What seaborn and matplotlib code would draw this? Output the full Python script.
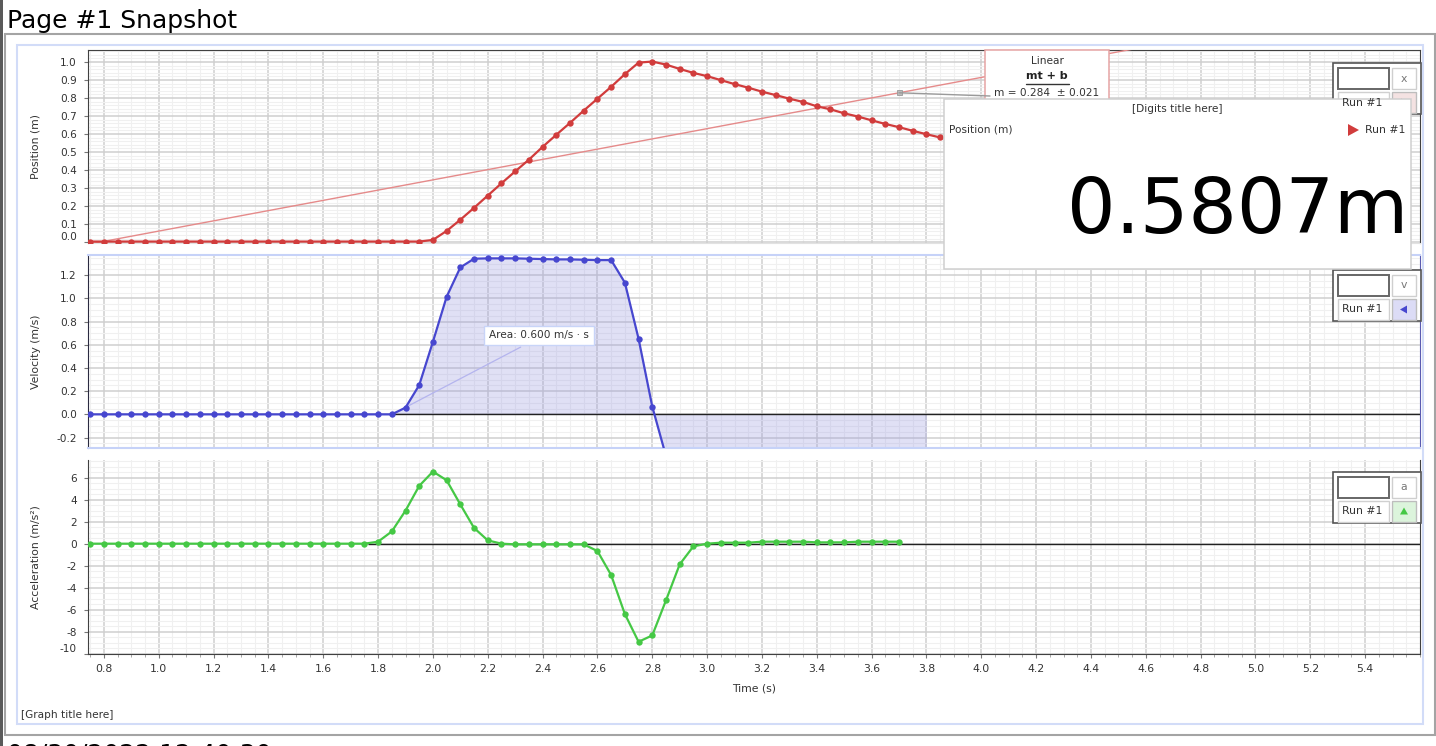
import numpy as np
import pandas as pd
import seaborn as sns
import matplotlib.pyplot as plt
from matplotlib.patches import Rectangle, Polygon
from matplotlib.ticker import MultipleLocator, FixedLocator

W, H = 1436, 746

# --- data (dt = 0.05 s, starting at 0.75 s) ---
t0, dt = 0.75, 0.05
position = [0.004] * 25 + [
    0.013, 0.063, 0.125, 0.191, 0.259, 0.327, 0.393, 0.458, 0.529, 0.596,
    0.662, 0.730, 0.796, 0.862, 0.932, 0.996, 1.002, 0.985, 0.961, 0.939,
    0.921, 0.899, 0.877, 0.857, 0.835, 0.816, 0.796, 0.778, 0.754, 0.737,
    0.715, 0.697, 0.676, 0.656, 0.638, 0.618, 0.599, 0.581]
velocity = [0.0] * 23 + [
    0.058, 0.252, 0.626, 1.014, 1.267, 1.342, 1.345, 1.345, 1.345, 1.342,
    1.339, 1.336, 1.336, 1.333, 1.330, 1.330, 1.136, 0.652, 0.067, -0.36,
    -0.44, -0.43, -0.44, -0.44, -0.42, -0.43, -0.42, -0.39, -0.38, -0.40,
    -0.42, -0.39, -0.40, -0.39, -0.40, -0.39, -0.38, -0.38, -0.37]
acceleration = [0.0] * 21 + [
    0.18, 1.11, 3.00, 5.25, 6.55, 5.76, 3.56, 1.43, 0.30, 0.0,
    -0.06, -0.06, -0.06, -0.06, -0.06, -0.06, -0.67, -2.85, -6.39, -8.91,
    -8.33, -5.15, -1.88, -0.24, 0.0, 0.09, 0.09, 0.09, 0.18, 0.18,
    0.18, 0.18, 0.12, 0.12, 0.12, 0.18, 0.18, 0.18, 0.18]

fit_m, fit_b, fit_err = 0.284, -0.222, 0.021
area_start, area_end, area_value = 1.85, 3.80, 0.600
digits_value = 0.5807

xticks = [0.8, 1.0, 1.2, 1.4, 1.6, 1.8, 2.0, 2.2, 2.4, 2.6, 2.8, 3.0,
          3.2, 3.4, 3.6, 3.8, 4.0, 4.2, 4.4, 4.6, 4.8, 5.0, 5.2, 5.4]
pos_ticks = [0.0, 0.1, 0.2, 0.3, 0.4, 0.5, 0.6, 0.7, 0.8, 0.9, 1.0]
vel_ticks = [-0.2, 0.0, 0.2, 0.4, 0.6, 0.8, 1.0, 1.2]
acc_ticks = [-10, -8, -6, -4, -2, 0, 2, 4, 6]


def series(values):
    t = np.round(t0 + dt * np.arange(len(values)), 2)
    return pd.DataFrame({'t': t, 'v': values})


df_p, df_v, df_a = series(position), series(velocity), series(acceleration)

RED, BLUE, GREEN = '#d13c3c', '#4747cf', '#45c845'

sns.set_style('white')
plt.rcParams['font.family'] = ['DejaVu Sans']
plt.rcParams['axes.unicode_minus'] = False

fig = plt.figure(figsize=(W / 100, H / 100), dpi=100)


def rect(top, bottom):
    return [88 / W, 1 - bottom / H, (1420 - 88) / W, (bottom - top) / H]


def style(ax, yticks, yminor, ylim, label, bottom_labels=False):
    ax.set_xlim(0.742, 5.6)
    ax.set_ylim(*ylim)
    ax.xaxis.set_major_locator(FixedLocator(xticks))
    ax.xaxis.set_minor_locator(MultipleLocator(0.05))
    ax.yaxis.set_major_locator(FixedLocator(yticks))
    ax.yaxis.set_minor_locator(MultipleLocator(yminor))
    ax.grid(which='major', color='#cfcfcf', lw=1.1)
    ax.grid(which='minor', color='#f0f0f0', lw=0.8)
    ax.set_axisbelow(True)
    ax.tick_params(axis='y', which='major', direction='out', length=3, width=0.8,
                   color='#777', labelsize=7.6, labelcolor='#333', pad=5, left=True)
    ax.tick_params(axis='y', which='minor', length=0)
    if bottom_labels:
        ax.tick_params(axis='x', which='major', direction='out', length=3, width=0.8,
                       color='#777', labelsize=7.8, labelcolor='#333', pad=4.5, bottom=True)
        ax.tick_params(axis='x', which='minor', direction='out', length=2, width=0.6,
                       color='#999', bottom=True)
        ax.set_xlabel('Time (s)', fontsize=7.8, color='#333')
        ax.xaxis.set_label_coords(0.5, -0.15)
    else:
        ax.tick_params(axis='x', which='both', length=0, labelbottom=False)
        ax.set_xlabel('')
    ax.set_ylabel(label, fontsize=7.8, color='#333')
    ax.yaxis.set_label_coords(-0.0353, 0.5)


def line(ax, df, color):
    sns.lineplot(data=df, x='t', y='v', ax=ax, color=color, lw=1.6, marker='o',
                 markersize=4.6, markeredgewidth=0, zorder=4)


# position
ax_p = fig.add_axes(rect(50, 243))
fit_t = np.array([0.742, 5.6])
ax_p.plot(fit_t, fit_m * fit_t + fit_b, color='#e58a8a', lw=1.0, zorder=3)
line(ax_p, df_p, RED)
style(ax_p, pos_ticks, 0.02, (-0.004, 1.066), 'Position (m)')
for s in ['top', 'left', 'right']:
    ax_p.spines[s].set_color('#404040')
ax_p.spines['bottom'].set_color('#e2e2e2')

# velocity
ax_v = fig.add_axes(rect(255, 448))
mask = (df_v['t'] >= area_start) & (df_v['t'] <= area_end)
ax_v.fill_between(df_v['t'][mask], df_v['v'][mask], 0, color='#9999e0', alpha=0.3,
                  lw=0, zorder=2)
ax_v.hlines(0, area_start, 5.6, color='#222', lw=1.0, zorder=3)
ax_v.plot([1.90, 2.32], [0.06, 0.58], color='#b4b4ee', lw=0.9, zorder=3)
line(ax_v, df_v, BLUE)
ax_v.text(2.205, 0.682, f'Area: {area_value:.3f} m/s · s', fontsize=7.6, color='#333',
          va='center', ha='left', zorder=6,
          bbox=dict(boxstyle='square,pad=0.45', fc='white', ec='#c8d4f8', lw=1))
style(ax_v, vel_ticks, 0.05, (-0.29, 1.374), 'Velocity (m/s)')
ax_v.spines['left'].set_color('#2a2a40')
ax_v.spines['right'].set_color('#5a5ab0')
for s in ['top', 'bottom']:
    ax_v.spines[s].set_color('#c6d2f8')
    ax_v.spines[s].set_linewidth(1.5)

# acceleration
ax_a = fig.add_axes(rect(460, 654))
ax_a.hlines(0, 1.765, 5.6, color='#222', lw=1.0, zorder=3)
line(ax_a, df_a, GREEN)
style(ax_a, acc_ticks, 0.5, (-10.02, 7.6), 'Acceleration (m/s²)', bottom_labels=True)
for s in ['left', 'bottom', 'right']:
    ax_a.spines[s].set_color('#404040')
ax_a.spines['top'].set_visible(False)

# edge labels nudged up like the original
ax_p.get_yticklabels()[0].set_verticalalignment('bottom')
ax_a.get_yticklabels()[0].set_verticalalignment('bottom')

# --- overlay in pixel coordinates ---
ov = fig.add_axes([0, 0, 1, 1], zorder=10)
ov.set_xlim(0, W)
ov.set_ylim(H, 0)
ov.axis('off')
ov.patch.set_alpha(0)

ov.add_patch(Rectangle((0, 0), 3, H, fc='#5a5a5a', ec='none'))
ov.add_patch(Rectangle((5, 34), 1430, 701, fc='none', ec='#a4a4a4', lw=1.5))
ov.add_patch(Rectangle((17, 45), 1406, 679, fc='none', ec='#d2dcf8', lw=1.5))
ov.text(7, 28, 'Page #1 Snapshot', fontsize=18, color='black', va='baseline')
ov.text(7, 761, '08/30/2022 12:40:30', fontsize=18, color='black', va='baseline')
ov.text(21, 715, '[Graph title here]', fontsize=7.6, color='#333', va='center')


def legend_box(y0, key, btn_fc, tri, tri_color):
    ov.add_patch(Rectangle((1333, y0), 88, 51, fc='white', ec='#555', lw=1.2))
    ov.add_patch(Rectangle((1338, y0 + 5), 51, 21, fc='white', ec='#666', lw=1.4))
    ov.add_patch(Rectangle((1392, y0 + 5), 24, 21, fc='white', ec='#cfcfcf', lw=1))
    ov.text(1404, y0 + 15.5, key, ha='center', va='center', fontsize=7.8, color='#777')
    ov.add_patch(Rectangle((1338, y0 + 29), 51, 21, fc='white', ec='#d0d0d0', lw=1))
    ov.text(1342, y0 + 39.5, 'Run #1', ha='left', va='center', fontsize=7.8, color='#333')
    ov.add_patch(Rectangle((1392, y0 + 29), 24, 21, fc=btn_fc, ec='#bdbdbd', lw=1))
    ov.add_patch(Polygon([(1404 + dx, y0 + 39.5 + dy) for dx, dy in tri],
                         closed=True, fc=tri_color, ec='none'))


legend_box(63, 'x', '#f4e2e2', [(4, 0), (-3, -4), (-3, 4)], RED)
legend_box(270, 'v', '#dcdcf6', [(-4, 0), (3, -4), (3, 4)], BLUE)
legend_box(472, 'a', '#dcf4dc', [(0, -4), (-4, 3), (4, 3)], GREEN)

# curve-fit box with leader to the fit line
t_fit_lbl = 3.70
px, py = ax_p.transData.transform((t_fit_lbl, fit_m * t_fit_lbl + fit_b))
ov.plot([px, 990], [H - py, 96], color='#9a9a9a', lw=1.0)
ov.add_patch(Rectangle((px - 2.5, H - py - 2.5), 5, 5, fc='#bbbbbb', ec='#999', lw=0.6))
ov.add_patch(Rectangle((985, 50), 124, 56, fc='white', ec='#e6a4a4', lw=1.1))
ov.text(1047, 61, 'Linear', ha='center', va='center', fontsize=7.6, color='#333')
ov.text(1047, 76, 'mt + b', ha='center', va='center', fontsize=8, color='#222',
        fontweight='bold')
ov.plot([1026, 1069], [84, 84], color='#333', lw=1)
ov.text(1047, 93.5, f'm = {fit_m:.3f}  ± {fit_err:.3f}', ha='center', va='center',
        fontsize=7.6, color='#333')

# digits meter
ov.add_patch(Rectangle((944, 99), 467, 170, fc='white', ec='#cfcfcf', lw=1.1))
ov.text(1177, 109, '[Digits title here]', ha='center', va='center', fontsize=7.6,
        color='#333')
ov.text(949, 130, 'Position (m)', ha='left', va='center', fontsize=7.6, color='#333')
ov.add_patch(Polygon([(1348, 124), (1348, 136), (1359, 130)], closed=True, fc=RED,
                     ec='none'))
ov.text(1365, 130, 'Run #1', ha='left', va='center', fontsize=7.8, color='#333')
ov.text(1408, 233, f'{digits_value:.4f}m', ha='right', va='baseline', fontsize=55,
        color='black')

fig.savefig('out.png', dpi=100)
